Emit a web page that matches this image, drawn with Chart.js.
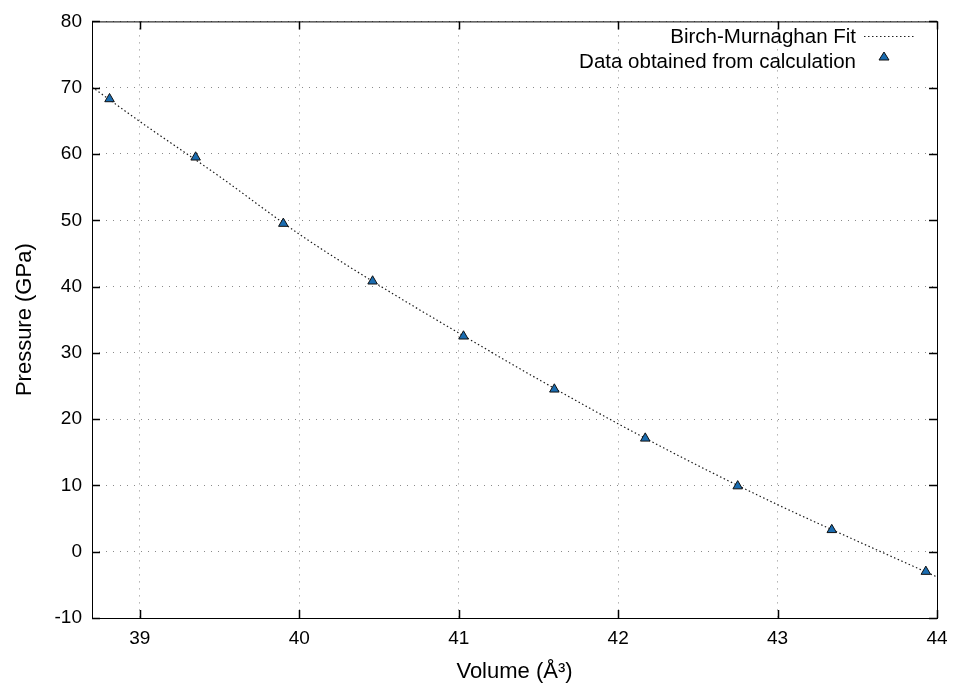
<!DOCTYPE html>
<html>
<head>
<meta charset="utf-8">
<script src="https://cdn.jsdelivr.net/npm/chart.js@4"></script>
<style>
  html, body { margin: 0; padding: 0; background: #fff; }
  #wrap { width: 957px; height: 692px; }
</style>
</head>
<body>
<div id="wrap"><canvas id="chart"></canvas></div>
<script>
'use strict';

// ── Data ──────────────────────────────────────────────────────────────────────

const volumes   = [38.81, 39.35, 39.90, 40.46, 41.03, 41.60, 42.17, 42.75, 43.34, 43.93];
const pressures = [68.3, 59.5, 49.5, 40.8, 32.5, 24.5, 17.1, 9.9, 3.3, -3.0];

const fitVolumes   = [38.7, 39.0, 39.5, 40.0, 40.5, 41.0, 41.5, 42.0, 42.5, 43.0, 43.5, 44.0];
const fitPressures = [70.1, 64.9, 56.6, 47.9, 40.2, 33.0, 26.0, 19.3, 13.0, 7.1, 1.6, -3.8];

const xTicks = [39, 40, 41, 42, 43, 44];
const yTicks = [-10, 0, 10, 20, 30, 40, 50, 60, 70, 80];

const FONT = "'Liberation Sans', Arial, Helvetica, sans-serif";

// ── Frame, inward ticks and legend ────────────────────────────────────────────

const frame = {
  id: 'frame',
  afterDraw(chart) {
    const { ctx, chartArea: a, scales: { x, y } } = chart;
    ctx.save();
    ctx.strokeStyle = '#000';
    ctx.lineWidth = 1;
    ctx.setLineDash([]);
    ctx.strokeRect(a.left + 0.5, a.top + 0.5, a.right - a.left, a.bottom - a.top);

    const len = 8;
    ctx.lineWidth = 1.5;
    ctx.beginPath();
    xTicks.forEach(v => {
      const px = Math.round(x.getPixelForValue(v)) + 0.5;
      ctx.moveTo(px, a.bottom); ctx.lineTo(px, a.bottom - len);
      ctx.moveTo(px, a.top);    ctx.lineTo(px, a.top + len);
    });
    yTicks.forEach(v => {
      const py = Math.round(y.getPixelForValue(v)) + 0.5;
      ctx.moveTo(a.left, py);  ctx.lineTo(a.left + len, py);
      ctx.moveTo(a.right, py); ctx.lineTo(a.right - len, py);
    });
    ctx.stroke();

    // legend
    ctx.fillStyle = '#000';
    ctx.font = '20.5px ' + FONT;
    ctx.textAlign = 'right';
    ctx.textBaseline = 'middle';
    ctx.fillText('Birch-Murnaghan Fit', 856, 37);
    ctx.fillText('Data obtained from calculation', 856, 62);

    ctx.strokeStyle = '#222';
    ctx.lineWidth = 1;
    ctx.setLineDash([1.5, 2.5]);
    ctx.beginPath();
    ctx.moveTo(864, 36.5); ctx.lineTo(916, 36.5);
    ctx.stroke();
    ctx.setLineDash([]);

    ctx.beginPath();
    ctx.moveTo(884, 52); ctx.lineTo(889, 60); ctx.lineTo(879, 60); ctx.closePath();
    ctx.fillStyle = '#1a6cb0';
    ctx.fill();
    ctx.strokeStyle = '#111';
    ctx.stroke();
    ctx.restore();
  },
};

// ── Chart ─────────────────────────────────────────────────────────────────────

new Chart(document.getElementById('chart'), {
  type: 'scatter',
  data: {
    datasets: [
      {
        label: 'Birch-Murnaghan Fit',
        data: fitVolumes.map((v, i) => ({ x: v, y: fitPressures[i] })),
        showLine: true,
        borderColor: '#1a1a1a',
        borderWidth: 1.2,
        borderDash: [1.5, 2.5],
        pointRadius: 0,
        cubicInterpolationMode: 'monotone',
        order: 2,
      },
      {
        label: 'Data obtained from calculation',
        data: volumes.map((v, i) => ({ x: v, y: pressures[i] })),
        pointStyle: 'triangle',
        pointRadius: 5.5,
        backgroundColor: '#1a6cb0',
        borderColor: '#111',
        borderWidth: 1,
        order: 1,
      },
    ],
  },
  options: {
    responsive: true,
    maintainAspectRatio: false,
    animation: false,
    layout: { padding: { top: 19, right: 20, left: 0, bottom: 0 } },
    plugins: { legend: { display: false }, tooltip: { enabled: false } },
    scales: {
      x: {
        type: 'linear',
        min: 38.7,
        max: 44,
        afterBuildTicks: s => { s.ticks = xTicks.map(v => ({ value: v })); },
        afterFit: s => { s.height = 74; },
        border: { display: false, dash: [1, 6] },
        grid: { color: '#8a8a8a', lineWidth: 1, drawTicks: false },
        ticks: { color: '#000', padding: 9, font: { family: FONT, size: 19 }, maxRotation: 0 },
        title: {
          display: true,
          text: 'Volume (Å³)',
          color: '#000',
          font: { family: FONT, size: 22 },
          padding: { top: 7, bottom: 7 },
        },
      },
      y: {
        type: 'linear',
        min: -10,
        max: 80,
        afterBuildTicks: s => { s.ticks = yTicks.map(v => ({ value: v })); },
        afterFit: s => { s.width = 92; },
        border: { display: false, dash: [1, 6] },
        grid: { color: '#8a8a8a', lineWidth: 1, drawTicks: false },
        ticks: { color: '#000', padding: 10, font: { family: FONT, size: 19 } },
        title: {
          display: true,
          text: 'Pressure (GPa)',
          color: '#000',
          font: { family: FONT, size: 22 },
          padding: { top: 12, bottom: 12 },
        },
      },
    },
  },
  plugins: [frame],
});
</script>
</body>
</html>
